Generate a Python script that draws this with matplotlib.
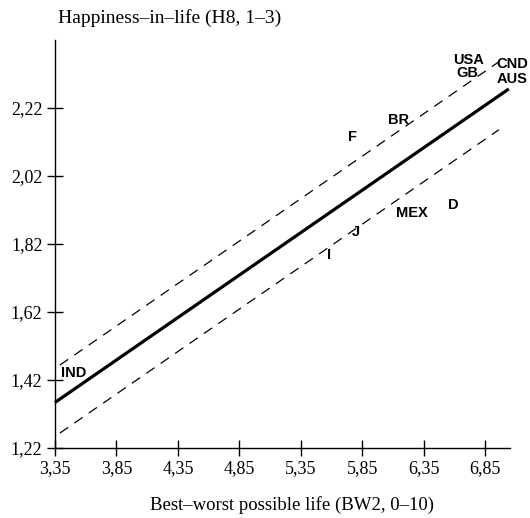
import matplotlib
matplotlib.use("Agg")
import numpy as np
import matplotlib.pyplot as plt

# country labels placed at (best-worst life, happiness)
countries = ["USA", "GB", "CND", "AUS", "BR", "F", "MEX", "D", "J", "I", "IND"]
bw2 = [6.71, 6.70, 7.07, 7.07, 6.14, 5.77, 6.25, 6.59, 5.80, 5.58, 3.50]
h8 = [2.36, 2.322, 2.35, 2.306, 2.185, 2.135, 1.91, 1.935, 1.855, 1.787, 1.44]

# regression line and the two dashed bands
fit_x = [3.35, 7.04]
fit_y = [1.354, 2.276]
band_x = [3.39, 6.96]
band_offset = 0.10

x_ticks = [3.35, 3.85, 4.35, 4.85, 5.35, 5.85, 6.35, 6.85]
y_ticks = [1.22, 1.42, 1.62, 1.82, 2.02, 2.22]

serif = "Liberation Serif"

fig = plt.figure(figsize=(5.30, 5.18), dpi=100)
ax = fig.add_axes([55 / 530, 70 / 518, 455 / 530, 408 / 518])

ax.plot(fit_x, fit_y, color="black", linewidth=2.3, solid_capstyle="butt", clip_on=False)

slope = (fit_y[1] - fit_y[0]) / (fit_x[1] - fit_x[0])
band_mid = [fit_y[0] + slope * (x - fit_x[0]) for x in band_x]
for sign in (1, -1):
    ax.plot(band_x, [y + sign * band_offset for y in band_mid],
            color="black", linewidth=0.9, linestyle=(0, (8, 6)))

for name, x, y in zip(countries, bw2, h8):
    ax.text(x, y, name, ha="center", va="center", fontsize=10.5,
            fontweight="bold", family="Liberation Sans", clip_on=False)

ax.set_xlim(3.35, 7.05)
ax.set_ylim(1.22, 2.42)
ax.set_xticks(x_ticks)
ax.set_xticklabels([f"{v:.2f}".replace(".", ",") for v in x_ticks])
ax.set_yticks(y_ticks)
ax.set_yticklabels([f"{v:.2f}".replace(".", ",") for v in y_ticks])
ax.tick_params(direction="inout", length=12, width=1, labelsize=13, pad=3)
for lbl in ax.get_xticklabels() + ax.get_yticklabels():
    lbl.set_family(serif)

for side in ("top", "right"):
    ax.spines[side].set_visible(False)
for side in ("left", "bottom"):
    ax.spines[side].set_linewidth(1)

fig.text(58 / 530, 1 - 18 / 518, "Happiness\u2013in\u2013life (H8, 1\u20133)",
         ha="left", va="center", fontsize=14, family=serif)
fig.text(292 / 530, 1 - 505 / 518, "Best\u2013worst possible life (BW2, 0\u201310)",
         ha="center", va="center", fontsize=13.5, family=serif)

fig.savefig("out.png", dpi=100)
